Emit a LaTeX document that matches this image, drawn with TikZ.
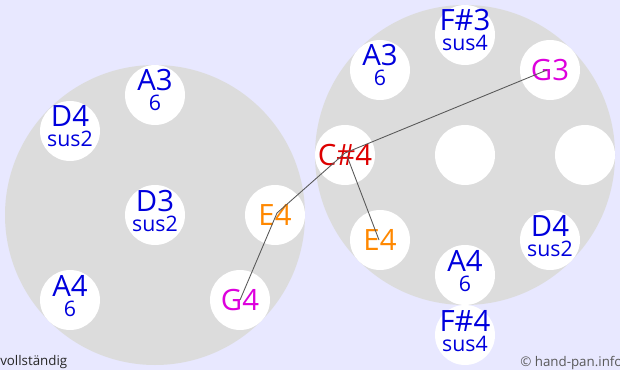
\documentclass[tikz,border=0pt]{standalone}
\usepackage{fontspec}
\setmainfont{Open Sans}
\definecolor{bgcol}{HTML}{E8E8FF}
\definecolor{pangrey}{HTML}{DCDCDC}
\definecolor{nblue}{HTML}{0000DD}
\definecolor{nmag}{HTML}{DD00DD}
\definecolor{nred}{HTML}{DD0000}
\definecolor{norange}{HTML}{FF8800}
\definecolor{linegrey}{HTML}{585858}
\begin{document}
\begin{tikzpicture}[x=0.75pt,y=-0.75pt,
  bigpan/.style={circle,fill=pangrey,minimum size=225pt,inner sep=0pt},
  pad/.style={circle,fill=white,minimum size=45pt,inner sep=0pt},
  maintxt/.style={anchor=base,inner sep=0pt,text depth=0pt,font=\fontsize{22}{22}\selectfont},
  subtxt/.style={anchor=base,inner sep=0pt,text height=0.7em,text depth=0pt,font=\fontsize{16}{16}\selectfont},
  smalltxt/.style={anchor=base west,inner sep=0pt,font=\fontsize{10}{10}\selectfont},
  conn/.style={draw=linegrey,line width=0.65pt}]
\clip (0,0) rectangle (620,370);
\fill[bgcol] (0,0) rectangle (620,370);
% big pans
\node[bigpan] (left) at (155,215) {};
\node[bigpan] (right) at (465,155) {};
% left pads
\node[pad] (a3l) at (155,95) {};
\node[pad] (d4l) at (70,131) {};
\node[pad] (d3) at (155,215) {};
\node[pad] (e4l) at (275,215) {};
\node[pad] (g4) at (240,300) {};
\node[pad] (a4l) at (70,300) {};
% right pads
\node[pad] (f3) at (465,35) {};
\node[pad] (a3r) at (380,70) {};
\node[pad] (g3) at (550,70) {};
\node[pad] (cs4) at (345,155) {};
\node[pad] (blank1) at (465,155) {};
\node[pad] (blank2) at (585,155) {};
\node[pad] (e4r) at (380,240) {};
\node[pad] (d4r) at (550,240) {};
\node[pad] (a4r) at (465,275) {};
\node[pad] (f4) at (465,335) {};
% labels left
\node[maintxt,text=nblue] (a3lm) at (155,91) {A3};
\node[subtxt,text=nblue] (a3ls) at (155,111) {6};
\node[maintxt,text=nblue] (d4lm) at (70,127) {D4};
\node[subtxt,text=nblue] (d4ls) at (70,147) {sus2};
\node[maintxt,text=nblue] (d3m) at (155,211) {D3};
\node[subtxt,text=nblue] (d3s) at (155,231) {sus2};
\node[maintxt,text=norange] (e4lm) at (275,225.5) {E4};
\node[maintxt,text=nmag] (g4m) at (240,310.5) {G4};
\node[maintxt,text=nblue] (a4lm) at (70,296) {A4};
\node[subtxt,text=nblue] (a4ls) at (70,316) {6};
% labels right
\node[maintxt,text=nblue] (f3m) at (465,31) {F\#3};
\node[subtxt,text=nblue] (f3s) at (465,51) {sus4};
\node[maintxt,text=nblue] (a3rm) at (380,66) {A3};
\node[subtxt,text=nblue] (a3rs) at (380,86) {6};
\node[maintxt,text=nmag] (g3m) at (550,80.5) {G3};
\node[maintxt,text=nred] (cs4m) at (345,165.5) {C\#4};
\node[maintxt,text=norange] (e4rm) at (380,250.5) {E4};
\node[maintxt,text=nblue] (d4rm) at (550,236) {D4};
\node[subtxt,text=nblue] (d4rs) at (550,256) {sus2};
\node[maintxt,text=nblue] (a4rm) at (465,271) {A4};
\node[subtxt,text=nblue] (a4rs) at (465,291) {6};
\node[maintxt,text=nblue] (f4m) at (465,331) {F\#4};
\node[subtxt,text=nblue] (f4s) at (465,351) {sus4};
% footer texts
\node[smalltxt,text=black!85] (voll) at (0,365) {vollständig};
\node[smalltxt,text=black!65] (copy) at (520,366) {© hand-pan.info};
% connectors
\coordinate (pg4) at ([shift={(0,0)}]g4.center);
\coordinate (pe4l) at ([shift={(2,-2)}]e4l.center);
\coordinate (pcs4a) at ([shift={(0,-2)}]cs4.center);
\coordinate (pcs4b) at ([shift={(2,1)}]cs4.center);
\coordinate (pg3) at ([shift={(-3,0)}]g3.center);
\coordinate (pe4r) at ([shift={(-1,0)}]e4r.center);
\draw[conn] (pg4) -- (pe4l) -- (pcs4a) -- (pg3);
\draw[conn] (pcs4b) -- (pe4r);
\end{tikzpicture}
\end{document}
